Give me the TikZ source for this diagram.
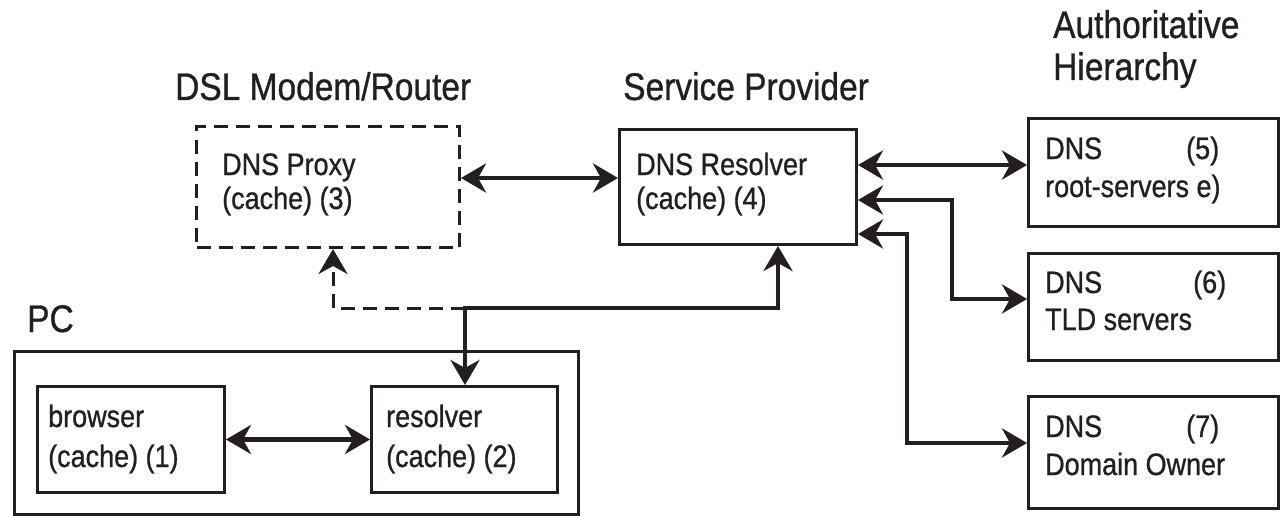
\documentclass[tikz,border=0pt]{standalone}
\usepackage{fontspec}
\setmainfont[FakeStretch=0.87,FakeBold=0.8]{Liberation Sans}
\usetikzlibrary{arrows.meta}
\definecolor{ink}{RGB}{35,31,32}
\begin{document}
\begin{tikzpicture}[x=1pt,y=-1pt,
  box/.style={draw=ink,line width=3pt,minimum width=#1,anchor=north west,inner sep=0pt},
  txt/.style={anchor=base west,inner sep=0pt,text=ink,font=\fontsize{31}{36}\selectfont},
  ttl/.style={anchor=base west,inner sep=0pt,text=ink,font=\fontsize{38.5}{44}\selectfont},
  tip/.tip={Stealth[length=25pt,width=29pt,inset=8pt]},
  conn/.style={draw=ink,line width=4.5pt,tip-tip},
  connr/.style={draw=ink,line width=4.5pt,-tip},
  dsh/.style={dash pattern=on 14pt off 8pt}]
\useasboundingbox[fill=white] (0,0) rectangle (1284,516);
% boxes
\node[box=263pt,minimum height=121pt,dsh] (proxy) at (195,125) {};
\node[box=237pt,minimum height=115pt] (rsp) at (618,128) {};
\node[box=250pt,minimum height=108pt] (d5) at (1027,117) {};
\node[box=250pt,minimum height=107pt] (d6) at (1027,252) {};
\node[box=250pt,minimum height=112pt] (d7) at (1027,395) {};
\node[box=564pt,minimum height=163pt] (pc) at (13,350) {};
\node[box=187pt,minimum height=106pt] (br) at (36,385) {};
\node[box=186pt,minimum height=106pt] (rpc) at (370,385) {};
% titles
\node[ttl] (t1) at (175,100) {DSL Modem/Router};
\node[ttl] (t2) at (623,100) {Service Provider};
\node[ttl] (t3) at (1053,38) {Authoritative};
\node[ttl] (t4) at (1053,80) {Hierarchy};
\node[ttl] (t5) at (27,332) {PC};
% box texts
\node[txt] (p1) at (222,175) {DNS Proxy};
\node[txt] (p2) at (222,209) {(cache) (3)};
\node[txt] (s1) at (636,175) {DNS Resolver};
\node[txt] (s2) at (636,209) {(cache) (4)};
\node[txt] (b1) at (48,427) {browser};
\node[txt] (b2) at (48,467) {(cache) (1)};
\node[txt] (r1) at (386,427) {resolver};
\node[txt] (r2) at (386,467) {(cache) (2)};
\node[txt] (a1) at (1045,159) {DNS};
\node[txt] (a2) at (1186,159) {(5)};
\node[txt] (a3) at (1045,197) {root-servers e)};
\node[txt] (c1) at (1045,293) {DNS};
\node[txt] (c2) at (1193,293) {(6)};
\node[txt] (c3) at (1045,330) {TLD servers};
\node[txt] (e1) at (1045,437) {DNS};
\node[txt] (e2) at (1186,437) {(7)};
\node[txt] (e3) at (1045,475) {Domain Owner};
% junction coordinates
\coordinate (jd) at (333,308);
\coordinate (jl) at (465,308);
\coordinate (jr) at (778,308);
\coordinate (k6) at (952,299);
\coordinate (k7) at (907,443);
% connectors
\draw[conn] (proxy.east |- 0,178) -- (rsp.west |- 0,178);
\draw[conn] (br.east) -- (rpc.west);
\draw[conn] (rsp.east |- 0,165) -- (d5.west |- 0,165);
\draw[conn] (rsp.east |- 0,200) -| (k6) -- (d6.west |- k6);
\draw[conn] (rsp.east |- 0,234) -| (k7) -- (d7.west |- k7);
\draw[conn] (rpc.north -| jl) -- (jl) -- (jr) -- (rsp.south -| jr);
\draw[connr,line width=3pt,dsh] (jl) -- (jd) -- (proxy.south -| jd);
\end{tikzpicture}
\end{document}
